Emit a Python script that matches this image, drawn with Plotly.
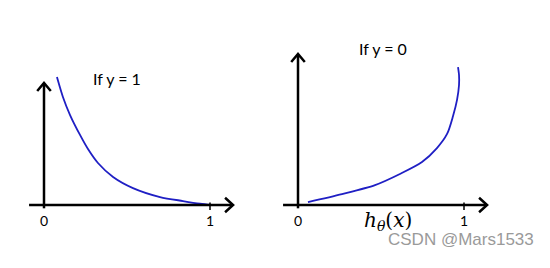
import plotly.graph_objects as go

# Left panel: cost if y = 1  (-log h)
x_y1 = [0.078, 0.114, 0.157, 0.217, 0.265, 0.325, 0.416, 0.536, 0.699, 0.837, 0.94, 1.01]
cost_y1 = [0.771, 0.651, 0.542, 0.422, 0.337, 0.253, 0.169, 0.102, 0.048, 0.024, 0.008, 0.0]

# Right panel: cost if y = 0  (-log(1-h))
x_y0 = [0.060, 0.265, 0.464, 0.614, 0.747, 0.837, 0.898, 0.934, 0.958, 0.970, 0.970, 0.964]
cost_y0 = [0.018, 0.066, 0.120, 0.187, 0.259, 0.343, 0.428, 0.536, 0.633, 0.723, 0.783, 0.831]

tick_vals = [0, 1]
tick_text = ["0", "1"]
titles = ["If y = 1", "If y = 0"]
xlabel = "<i>h</i><sub><i>θ</i></sub>(<i>x</i>)"

W, H = 550, 268
S = 166.0  # pixels per data unit

fig = go.Figure()
blue = "#1f1fc4"
fig.add_trace(go.Scatter(x=x_y1, y=cost_y1, mode="lines",
                         line=dict(color=blue, width=1.8, shape="spline", smoothing=0.8),
                         xaxis="x", yaxis="y", showlegend=False, hoverinfo="skip"))
fig.add_trace(go.Scatter(x=x_y0, y=cost_y0, mode="lines",
                         line=dict(color=blue, width=1.8, shape="spline", smoothing=0.8),
                         xaxis="x2", yaxis="y2", showlegend=False, hoverinfo="skip"))

def xr(px0, origin):
    return [(px0 - origin) / S, (px0 + 275 - origin) / S]

yrange = [(205 - 268) / S, 205 / S]

hidden = dict(visible=False, showgrid=False, zeroline=False)
fig.update_layout(
    width=W, height=H, margin=dict(l=0, r=0, t=0, b=0),
    paper_bgcolor="white", plot_bgcolor="white",
    xaxis=dict(domain=[0, 0.5], range=xr(0, 44), **hidden),
    yaxis=dict(domain=[0, 1], range=yrange, **hidden),
    xaxis2=dict(domain=[0.5, 1], range=xr(275, 298), **hidden),
    yaxis2=dict(domain=[0, 1], range=yrange, anchor="x2", **hidden),
)

shapes = []
ann = []
d = 8 / S
for xa, ya, ytop, title, tx, ty in [("x", "y", 0.735, titles[0], 0.44, 0.765),
                                     ("x2", "y2", 0.91, titles[1], 0.51, 0.94)]:
    line = dict(color="black", width=2.5)
    # x axis
    shapes.append(dict(type="line", xref=xa, yref=ya, x0=-0.09, x1=1.139, y0=0, y1=0, line=line))
    shapes.append(dict(type="path", xref=xa, yref=ya,
                       path=f"M {1.139-d},{d*0.9} L 1.139,0 L {1.139-d},{-d*0.9}", line=line))
    # y axis
    shapes.append(dict(type="line", xref=xa, yref=ya, x0=0, x1=0, y0=-0.02, y1=ytop, line=line))
    shapes.append(dict(type="path", xref=xa, yref=ya,
                       path=f"M {-d*0.85},{ytop-d} L 0,{ytop} L {d*0.85},{ytop-d}", line=line))
    # tick at 1
    shapes.append(dict(type="line", xref=xa, yref=ya, x0=1, x1=1, y0=0.015, y1=-0.03,
                       line=dict(color="black", width=1.5)))
    for v, t in zip(tick_vals, tick_text):
        ann.append(dict(xref=xa, yref=ya, x=v, y=-0.095, text=t, showarrow=False,
                        font=dict(family="Lato", size=14, color="black")))
    ann.append(dict(xref=xa, yref=ya, x=tx, y=ty, text=title, showarrow=False,
                    font=dict(family="Lato", size=16, color="black")))

ann.append(dict(xref="x2", yref="y2", x=0.54, y=-0.095, text=xlabel, showarrow=False,
                font=dict(family="DejaVu Serif", size=20, color="black")))
ann.append(dict(xref="paper", yref="paper", x=536 / W, y=1 - 251 / H, xanchor="right",
                text="CSDN @Mars1533", showarrow=False,
                font=dict(family="Liberation Sans", size=17, color="#9a9a9a")))

fig.update_layout(shapes=shapes, annotations=ann)
fig.write_html("out.html")
